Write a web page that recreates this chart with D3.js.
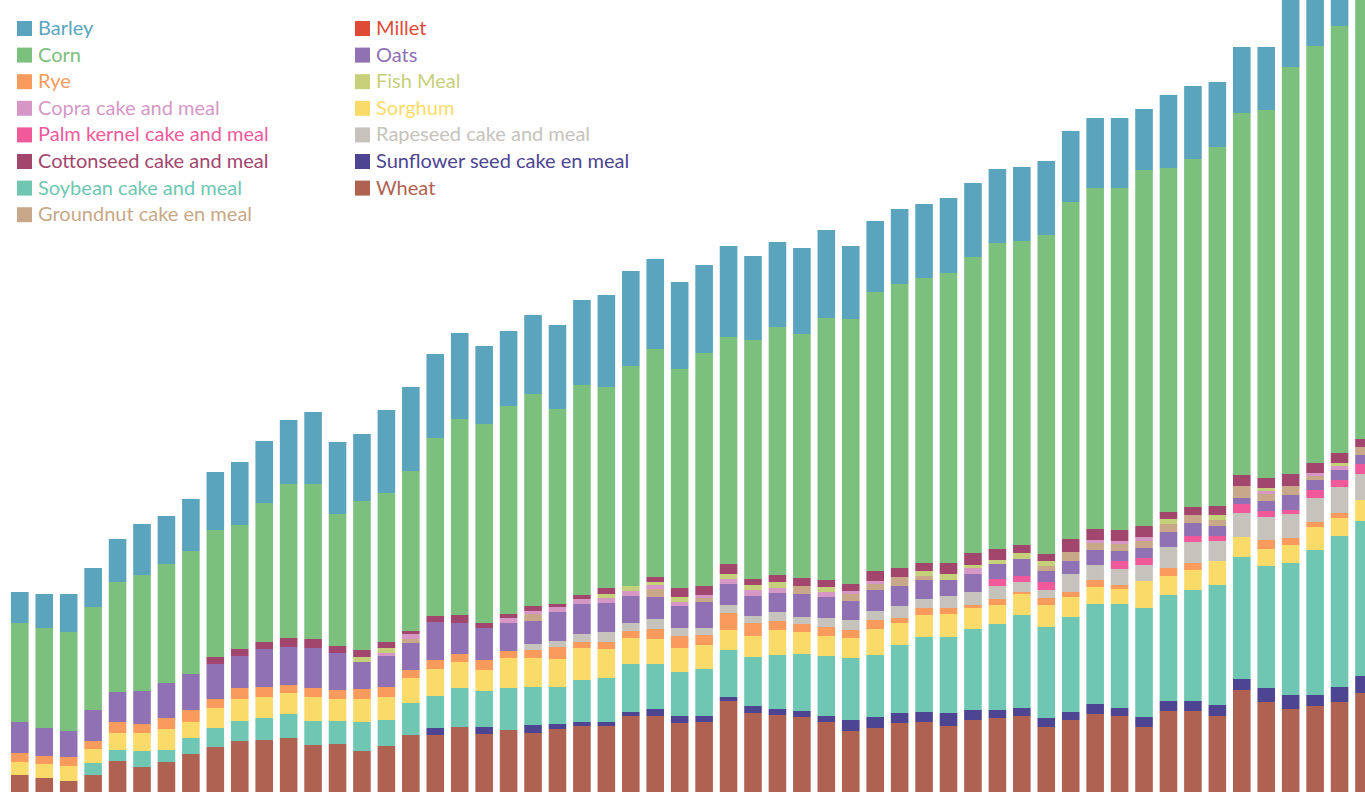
<!DOCTYPE html>
<html>
<head>
<meta charset="utf-8">
<script src="https://cdn.jsdelivr.net/npm/d3@7"></script>
<style>
  html, body { margin: 0; padding: 0; background: #fff; overflow: hidden; }
  #chart { width: 1365px; height: 792px; }
  .legend text { font-family: Lato, sans-serif; font-size: 20px; }
</style>
</head>
<body>
<div id="chart"></div>
<script>
// years, one bar each
const years = d3.range(1961, 2017);

// series values, bottom to top of each bar
const wheat = [17,14,11,17,31,25,30,38,45,51,52,54,47,48,41,46,57,57,65,58,62,59,63,66,66,76,76,69,70,91,79,77,75,70,61,64,69,70,66,72,74,76,65,72,78,76,65,81,81,76,102,90,83,86,90,99];
const sunflower = [0,0,0,0,0,0,0,0,0,0,0,0,0,0,0,0,0,7,0,7,0,8,5,4,4,4,7,7,6,4,7,6,6,6,11,11,10,10,13,10,8,8,9,8,10,8,10,10,10,11,11,14,14,11,15,17];
const soybean = [0,0,0,12,11,16,12,16,19,20,22,24,24,23,29,26,32,32,39,36,42,38,37,42,44,48,45,44,47,47,49,54,57,60,62,62,68,75,76,81,86,93,91,95,100,104,109,106,111,120,122,122,132,145,151,155];
const sorghum = [13,14,15,14,17,18,21,16,20,22,21,21,24,22,23,23,25,27,26,21,30,29,28,32,29,26,25,24,24,20,21,25,22,20,20,26,22,22,23,21,19,21,22,20,17,15,27,19,20,24,20,17,18,23,18,21];
const rye = [9,8,9,8,11,9,11,12,9,11,10,8,9,9,10,10,8,9,8,10,7,8,12,6,7,7,10,12,10,17,13,9,8,9,8,9,5,7,6,3,6,2,7,5,7,4,0,8,7,0,0,9,7,5,5,0];
const rapeseed = [0,0,0,0,0,0,0,0,0,0,0,0,0,0,0,0,0,0,0,0,0,6,6,8,10,8,10,8,7,8,7,9,7,9,10,9,12,9,12,13,13,10,8,18,15,16,16,21,21,20,24,23,24,24,26,26];
const palmKernel = [0,0,0,0,0,0,0,0,0,0,0,0,0,0,0,0,0,0,0,0,0,0,0,0,0,0,0,0,0,0,0,0,0,0,0,0,0,0,0,0,7,6,8,0,0,8,7,0,6,5,9,6,4,8,7,10];
const oats = [31,28,26,31,30,33,35,36,35,32,38,38,40,37,27,31,27,38,31,32,28,23,29,30,29,27,22,22,26,21,20,19,23,21,19,21,20,19,16,18,15,17,11,13,15,10,10,15,13,10,6,10,15,10,10,9];
const millet = [0,0,0,0,0,0,0,0,0,0,0,0,0,0,0,0,0,0,0,0,0,0,0,0,0,0,0,0,0,0,0,0,0,0,0,0,0,0,0,0,0,0,0,0,0,0,0,0,0,0,0,0,0,0,0,0];
const groundnut = [0,0,0,0,0,0,0,0,0,0,0,0,0,0,0,0,4,0,0,0,0,7,0,0,0,0,8,0,4,0,0,0,8,0,7,6,9,4,0,0,0,0,5,9,7,7,7,8,8,6,12,7,9,4,0,8];
const copra = [0,0,0,0,0,0,0,0,0,0,0,0,0,0,0,3,5,0,0,0,5,3,5,5,5,5,4,4,3,5,6,5,0,5,3,3,0,0,0,6,0,0,0,0,3,3,4,0,0,0,0,3,0,3,4,0];
const fishMeal = [0,0,0,0,0,0,0,0,0,0,0,0,0,0,5,5,0,0,0,0,0,0,0,0,4,5,3,5,0,5,5,6,0,5,0,0,0,5,6,3,4,6,5,0,0,0,0,5,0,5,0,3,0,0,3,0];
const cottonseed = [0,0,0,0,0,0,0,0,7,7,7,9,9,7,7,6,3,6,8,5,4,5,3,4,6,0,5,9,9,10,6,7,8,7,7,10,9,8,11,12,11,8,7,13,11,11,11,7,8,9,11,10,12,10,10,8];
const corn = [99,100,99,103,110,116,119,123,127,124,139,154,155,132,149,149,160,178,196,199,208,212,195,210,201,220,228,219,233,227,239,248,244,262,265,279,284,285,290,296,306,304,319,337,341,342,356,344,348,359,362,368,407,417,427,460];
const barley = [31,34,38,39,43,51,48,52,58,63,62,64,72,72,67,83,84,84,86,78,75,79,84,85,92,95,90,87,88,91,84,85,86,88,73,71,75,74,75,74,74,74,74,71,70,70,61,73,73,65,66,63,80,80,70,70];

// legend columns
const legendLeft = ["Barley", "Corn", "Rye", "Copra cake and meal", "Palm kernel cake and meal",
  "Cottonseed cake and meal", "Soybean cake and meal", "Groundnut cake en meal"];
const legendRight = ["Millet", "Oats", "Fish Meal", "Sorghum", "Rapeseed cake and meal",
  "Sunflower seed cake en meal", "Wheat"];

const seriesValues = {
  "Wheat": wheat,
  "Sunflower seed cake en meal": sunflower,
  "Soybean cake and meal": soybean,
  "Sorghum": sorghum,
  "Rye": rye,
  "Rapeseed cake and meal": rapeseed,
  "Palm kernel cake and meal": palmKernel,
  "Oats": oats,
  "Millet": millet,
  "Groundnut cake en meal": groundnut,
  "Copra cake and meal": copra,
  "Fish Meal": fishMeal,
  "Cottonseed cake and meal": cottonseed,
  "Corn": corn,
  "Barley": barley
};
const keys = Object.keys(seriesValues);

const colors = {
  "Barley": "#5ba4bd",
  "Corn": "#7cc07d",
  "Rye": "#f89b5d",
  "Copra cake and meal": "#d697c7",
  "Palm kernel cake and meal": "#f05a9a",
  "Cottonseed cake and meal": "#a3466e",
  "Soybean cake and meal": "#6fc7b3",
  "Groundnut cake en meal": "#c8a888",
  "Millet": "#de4c38",
  "Oats": "#8f71b4",
  "Fish Meal": "#c6d07a",
  "Sorghum": "#fadb6a",
  "Rapeseed cake and meal": "#c5c3bc",
  "Sunflower seed cake en meal": "#4d4592",
  "Wheat": "#b06252"
};

const width = 1365, height = 792;

const table = years.map((yr, i) => {
  const row = { year: yr };
  keys.forEach(k => { row[k] = seriesValues[k][i]; });
  return row;
});

const svg = d3.select('#chart').append('svg')
  .attr('width', width)
  .attr('height', height);

const step = 24.44, pad = 0.28;
const x = d3.scaleBand()
  .domain(years)
  .range([11, 11 + step * (years.length - pad)])
  .paddingInner(pad)
  .paddingOuter(0);

const y = d3.scaleLinear()
  .domain([0, 792])
  .range([height, 0]);

const stacked = d3.stack().keys(keys)(table);

svg.append('g')
  .selectAll('g')
  .data(stacked)
  .join('g')
  .attr('fill', d => colors[d.key])
  .selectAll('rect')
  .data(d => d.filter(s => s[1] > s[0]))
  .join('rect')
  .attr('x', d => x(d.data.year))
  .attr('width', x.bandwidth())
  .attr('y', d => y(d[1]))
  .attr('height', d => y(d[0]) - y(d[1]));

// legend
const legend = svg.append('g').attr('class', 'legend');
const rowH = 26.6;
[[legendLeft, 17], [legendRight, 355]].forEach(([names, lx]) => {
  const items = legend.append('g').selectAll('g')
    .data(names)
    .join('g')
    .attr('transform', (d, i) => `translate(${lx}, ${21 + i * rowH})`);
  items.append('rect')
    .attr('width', 15)
    .attr('height', 15)
    .attr('fill', d => colors[d]);
  items.append('text')
    .attr('x', 21)
    .attr('y', 14)
    .attr('fill', d => colors[d])
    .text(d => d);
});
</script>
</body>
</html>
